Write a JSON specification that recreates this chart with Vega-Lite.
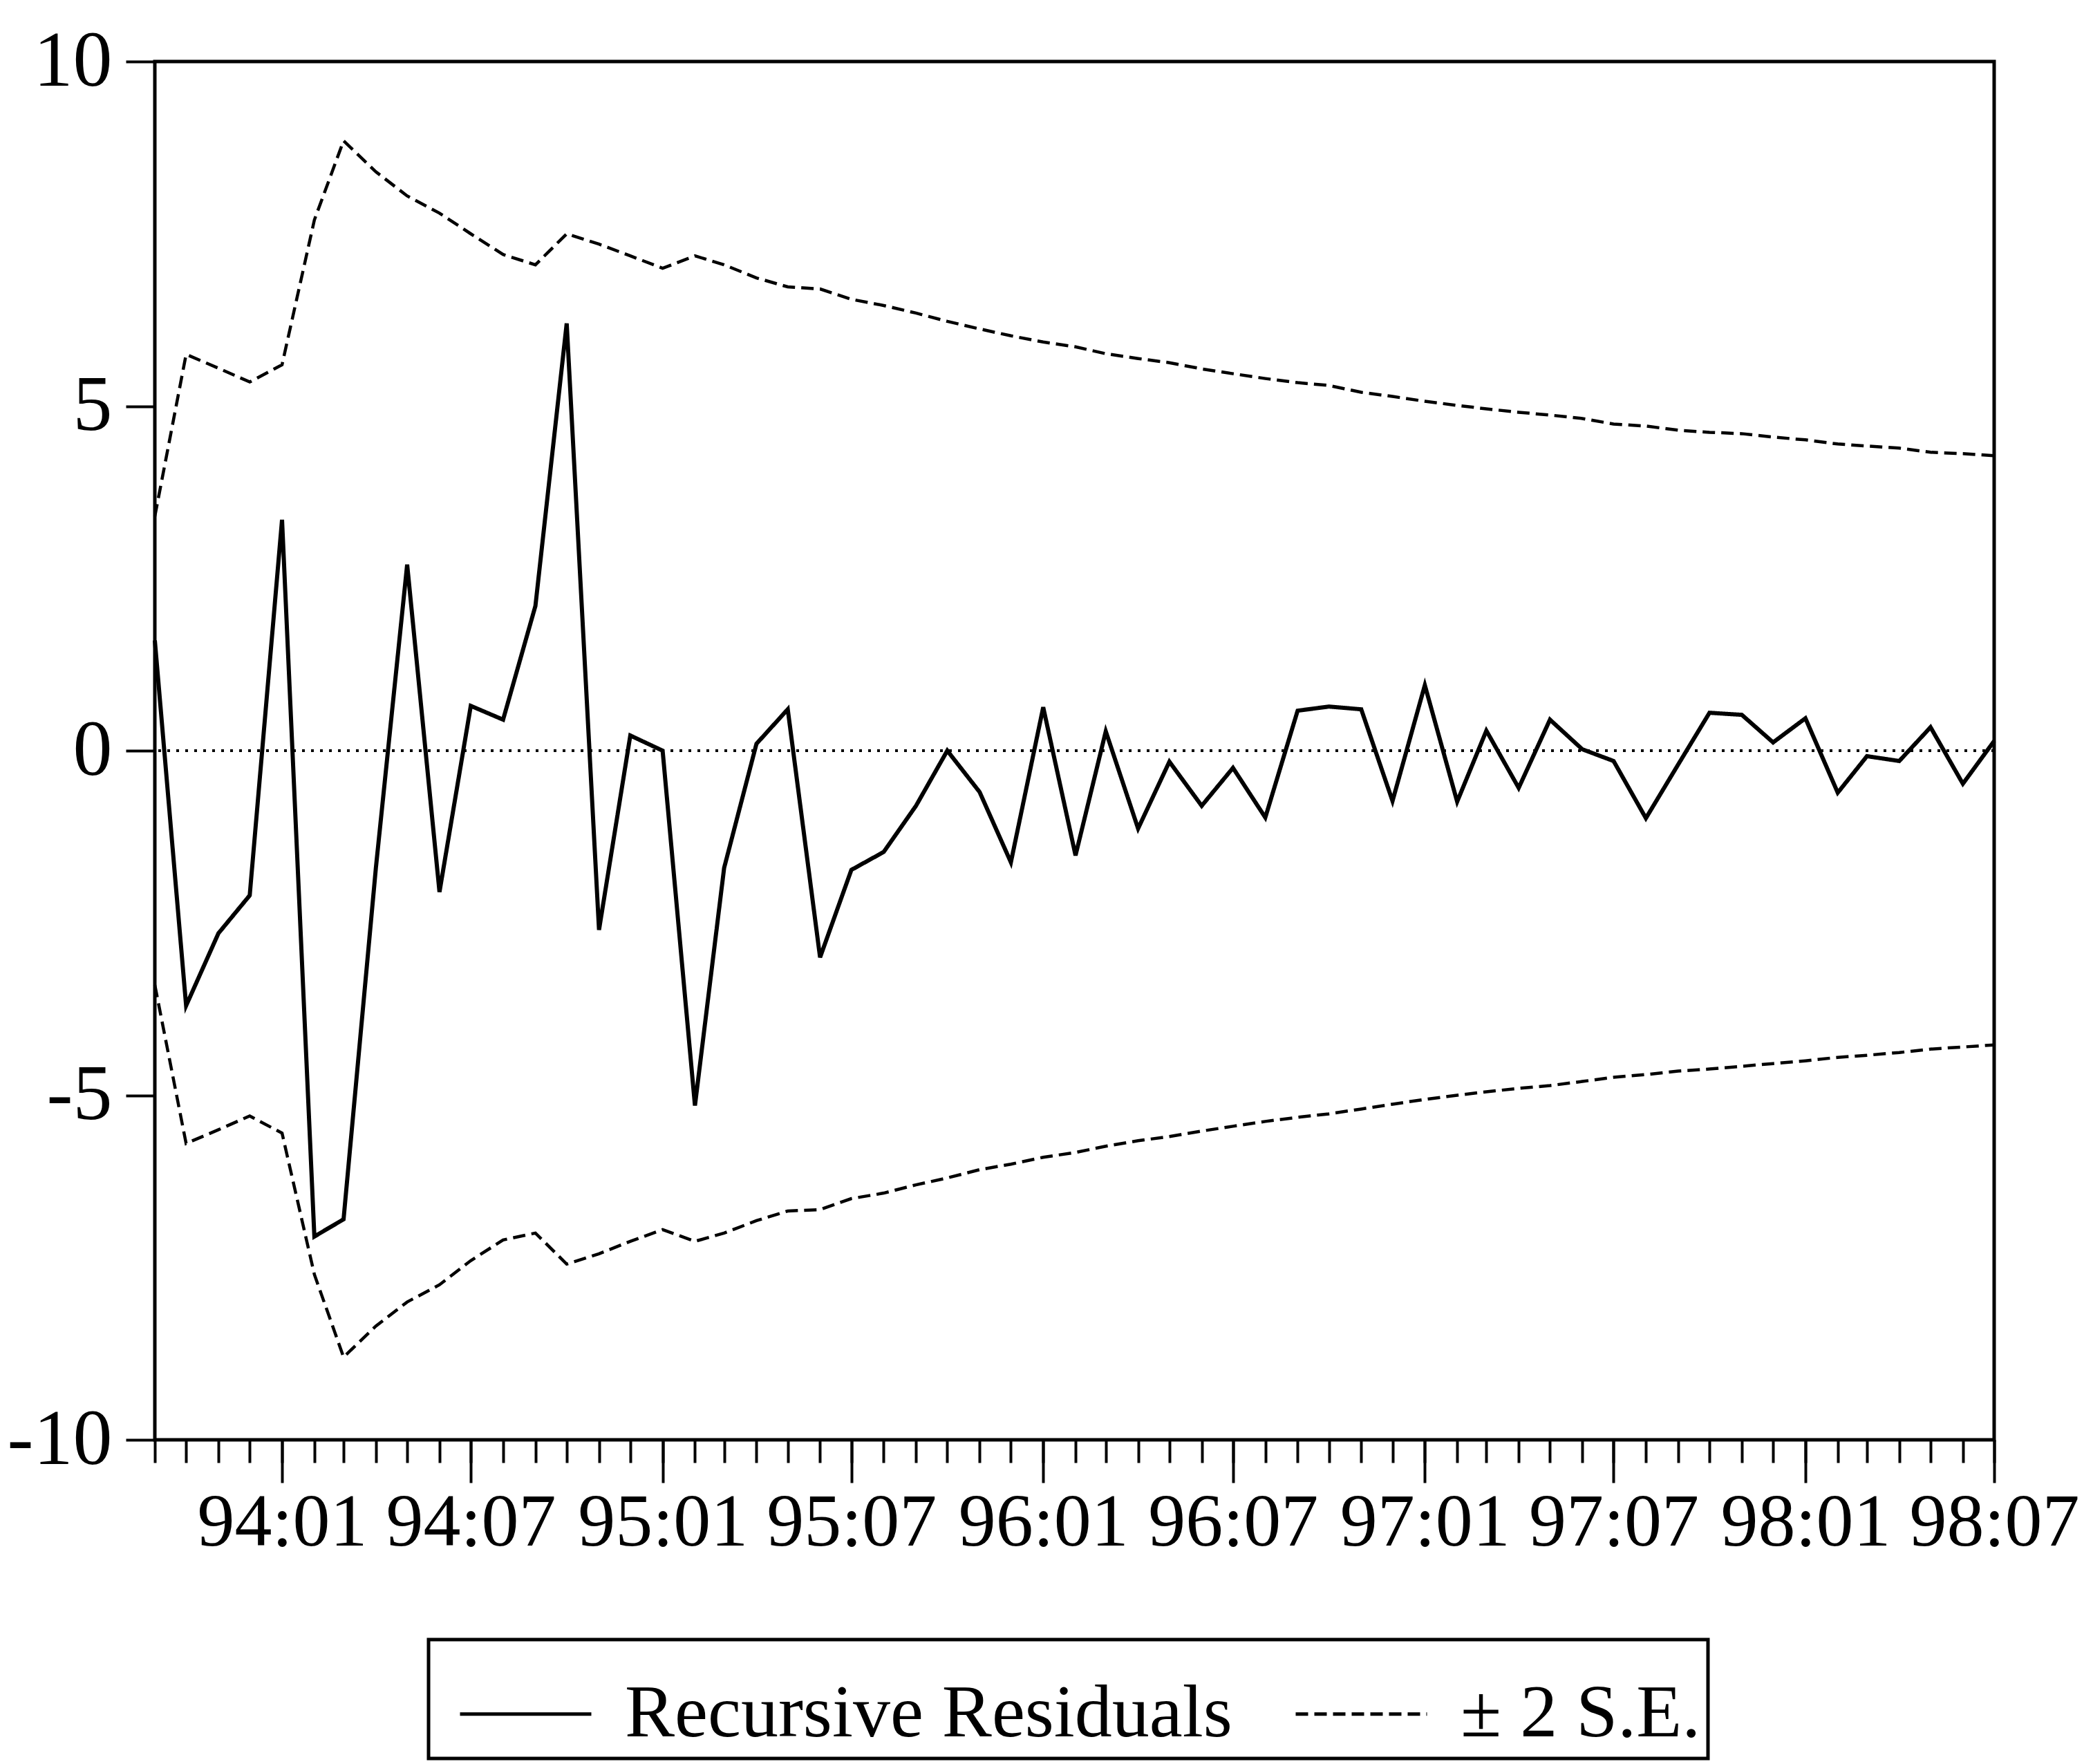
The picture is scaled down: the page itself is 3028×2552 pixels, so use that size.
{
  "$schema": "https://vega.github.io/schema/vega-lite/v6.json",
  "width": 2661,
  "height": 1994,
  "autosize": {"type": "none"},
  "padding": {"left": 224, "top": 89, "right": 143, "bottom": 469},
  "background": "white",
  "config": {
    "view": {"stroke": "black", "strokeWidth": 5},
    "axis": {"labelFont": "Liberation Serif", "labelColor": "black", "tickColor": "black", "grid": false, "domain": false, "tickWidth": 4}
  },
  "data": {
    "values": [
      {"date": "1993-09-01", "resid": 1.6, "upper": 3.4, "lower": -3.4},
      {"date": "1993-10-01", "resid": -3.7, "upper": 5.75, "lower": -5.7},
      {"date": "1993-11-01", "resid": -2.65, "upper": 5.55, "lower": -5.5},
      {"date": "1993-12-01", "resid": -2.1, "upper": 5.35, "lower": -5.3},
      {"date": "1994-01-01", "resid": 3.35, "upper": 5.6, "lower": -5.55},
      {"date": "1994-02-01", "resid": -7.05, "upper": 7.7, "lower": -7.6},
      {"date": "1994-03-01", "resid": -6.8, "upper": 8.85, "lower": -8.8},
      {"date": "1994-04-01", "resid": -1.7, "upper": 8.4, "lower": -8.35},
      {"date": "1994-05-01", "resid": 2.7, "upper": 8.05, "lower": -8.0},
      {"date": "1994-06-01", "resid": -2.05, "upper": 7.8, "lower": -7.75},
      {"date": "1994-07-01", "resid": 0.65, "upper": 7.5, "lower": -7.4},
      {"date": "1994-08-01", "resid": 0.45, "upper": 7.2, "lower": -7.1},
      {"date": "1994-09-01", "resid": 2.1, "upper": 7.05, "lower": -7.0},
      {"date": "1994-10-01", "resid": 6.2, "upper": 7.5, "lower": -7.45},
      {"date": "1994-11-01", "resid": -2.6, "upper": 7.35, "lower": -7.3},
      {"date": "1994-12-01", "resid": 0.22, "upper": 7.18, "lower": -7.12},
      {"date": "1995-01-01", "resid": 0.0, "upper": 7.0, "lower": -6.95},
      {"date": "1995-02-01", "resid": -5.15, "upper": 7.18, "lower": -7.12},
      {"date": "1995-03-01", "resid": -1.7, "upper": 7.05, "lower": -7.0},
      {"date": "1995-04-01", "resid": 0.1, "upper": 6.86, "lower": -6.82},
      {"date": "1995-05-01", "resid": 0.6, "upper": 6.73, "lower": -6.68},
      {"date": "1995-06-01", "resid": -3.0, "upper": 6.7, "lower": -6.66},
      {"date": "1995-07-01", "resid": -1.73, "upper": 6.55, "lower": -6.5},
      {"date": "1995-08-01", "resid": -1.47, "upper": 6.46, "lower": -6.42},
      {"date": "1995-09-01", "resid": -0.8, "upper": 6.35, "lower": -6.3},
      {"date": "1995-10-01", "resid": 0.0, "upper": 6.23, "lower": -6.2},
      {"date": "1995-11-01", "resid": -0.6, "upper": 6.12, "lower": -6.08},
      {"date": "1995-12-01", "resid": -1.62, "upper": 6.02, "lower": -6.0},
      {"date": "1996-01-01", "resid": 0.63, "upper": 5.93, "lower": -5.9},
      {"date": "1996-02-01", "resid": -1.52, "upper": 5.86, "lower": -5.83},
      {"date": "1996-03-01", "resid": 0.28, "upper": 5.76, "lower": -5.74},
      {"date": "1996-04-01", "resid": -1.13, "upper": 5.69, "lower": -5.66},
      {"date": "1996-05-01", "resid": -0.16, "upper": 5.63, "lower": -5.6},
      {"date": "1996-06-01", "resid": -0.8, "upper": 5.54, "lower": -5.52},
      {"date": "1996-07-01", "resid": -0.25, "upper": 5.47, "lower": -5.45},
      {"date": "1996-08-01", "resid": -0.97, "upper": 5.4, "lower": -5.38},
      {"date": "1996-09-01", "resid": 0.58, "upper": 5.34, "lower": -5.32},
      {"date": "1996-10-01", "resid": 0.64, "upper": 5.3, "lower": -5.27},
      {"date": "1996-11-01", "resid": 0.6, "upper": 5.2, "lower": -5.2},
      {"date": "1996-12-01", "resid": -0.73, "upper": 5.14, "lower": -5.13},
      {"date": "1997-01-01", "resid": 0.95, "upper": 5.07, "lower": -5.06},
      {"date": "1997-02-01", "resid": -0.74, "upper": 5.01, "lower": -5.0},
      {"date": "1997-03-01", "resid": 0.29, "upper": 4.96, "lower": -4.95},
      {"date": "1997-04-01", "resid": -0.54, "upper": 4.91, "lower": -4.9},
      {"date": "1997-05-01", "resid": 0.45, "upper": 4.87, "lower": -4.86},
      {"date": "1997-06-01", "resid": 0.02, "upper": 4.82, "lower": -4.8},
      {"date": "1997-07-01", "resid": -0.15, "upper": 4.74, "lower": -4.74},
      {"date": "1997-08-01", "resid": -0.98, "upper": 4.71, "lower": -4.7},
      {"date": "1997-09-01", "resid": -0.2, "upper": 4.65, "lower": -4.65},
      {"date": "1997-10-01", "resid": 0.55, "upper": 4.62, "lower": -4.62},
      {"date": "1997-11-01", "resid": 0.52, "upper": 4.6, "lower": -4.58},
      {"date": "1997-12-01", "resid": 0.12, "upper": 4.55, "lower": -4.54},
      {"date": "1998-01-01", "resid": 0.47, "upper": 4.51, "lower": -4.5},
      {"date": "1998-02-01", "resid": -0.61, "upper": 4.45, "lower": -4.45},
      {"date": "1998-03-01", "resid": -0.08, "upper": 4.42, "lower": -4.42},
      {"date": "1998-04-01", "resid": -0.15, "upper": 4.39, "lower": -4.38},
      {"date": "1998-05-01", "resid": 0.34, "upper": 4.33, "lower": -4.33},
      {"date": "1998-06-01", "resid": -0.48, "upper": 4.31, "lower": -4.3},
      {"date": "1998-07-01", "resid": 0.14, "upper": 4.28, "lower": -4.27}
    ]
  },
  "layer": [
    {
      "mark": {"type": "rule", "color": "black", "strokeWidth": 3, "strokeDash": [4, 9]},
      "encoding": {"y": {"datum": 0, "type": "quantitative"}}
    },
    {
      "mark": {"type": "line", "color": "black", "strokeWidth": 6},
      "encoding": {
        "x": {
          "field": "date",
          "type": "temporal",
          "scale": {"type": "utc", "domain": [{"year": 1993, "month": 9, "date": 1, "utc": true}, {"year": 1998, "month": 7, "date": 1, "utc": true}]},
          "axis": {
            "orient": "bottom",
            "title": null,
            "values": [
              {"year": 1994, "month": 1, "date": 1, "utc": true},
              {"year": 1994, "month": 7, "date": 1, "utc": true},
              {"year": 1995, "month": 1, "date": 1, "utc": true},
              {"year": 1995, "month": 7, "date": 1, "utc": true},
              {"year": 1996, "month": 1, "date": 1, "utc": true},
              {"year": 1996, "month": 7, "date": 1, "utc": true},
              {"year": 1997, "month": 1, "date": 1, "utc": true},
              {"year": 1997, "month": 7, "date": 1, "utc": true},
              {"year": 1998, "month": 1, "date": 1, "utc": true},
              {"year": 1998, "month": 7, "date": 1, "utc": true}
            ],
            "labelExpr": "utcFormat(datum.value, '%y:%m')",
            "labelLimit": 1000,
            "tickSize": 62,
            "tickWidth": 4,
            "labelPadding": 5,
            "labelFontSize": 108,
            "labelFont": "Liberation Serif",
            "labelOverlap": false,
            "labelFlush": false,
            "labelBound": false,
            "domain": false,
            "grid": false
          }
        },
        "y": {
          "field": "resid",
          "type": "quantitative",
          "title": null,
          "scale": {"domain": [-10, 10], "nice": false, "zero": false},
          "axis": {
            "values": [-10, -5, 0, 5, 10],
            "labelExpr": "'' + datum.value",
            "tickSize": 42,
            "tickWidth": 4,
            "labelPadding": 20,
            "labelFontSize": 114,
            "labelFont": "Liberation Serif",
            "labelOverlap": false,
            "labelFlush": false,
            "domain": false,
            "grid": false
          }
        },
        "strokeDash": {
          "datum": "Recursive Residuals",
          "type": "nominal",
          "scale": {"domain": ["Recursive Residuals", "± 2 S.E."], "range": [[1, 0], [18, 9]]},
          "legend": {
            "title": null,
            "orient": "none",
            "legendX": 396,
            "legendY": 2283,
            "direction": "horizontal",
            "symbolType": "stroke",
            "symbolSize": 36100,
            "symbolOffset": 33,
            "symbolStrokeWidth": 5,
            "symbolStrokeColor": "black",
            "labelFont": "Liberation Serif",
            "labelFontSize": 108,
            "labelColor": "black",
            "labelLimit": 3000,
            "labelOffset": 46,
            "columnPadding": 56,
            "padding": 10,
            "strokeColor": "black",
            "encode": {"legend": {"update": {"stroke": {"value": "black"}, "strokeWidth": {"value": 5}}}}
          }
        }
      }
    },
    {
      "mark": {"type": "line", "color": "black", "strokeWidth": 4.5},
      "encoding": {
        "x": {
          "field": "date",
          "type": "temporal",
          "axis": {
            "orient": "bottom",
            "title": null,
            "values": [
              {"year": 1993, "month": 9, "date": 1, "utc": true},
              {"year": 1993, "month": 10, "date": 1, "utc": true},
              {"year": 1993, "month": 11, "date": 1, "utc": true},
              {"year": 1993, "month": 12, "date": 1, "utc": true},
              {"year": 1994, "month": 1, "date": 1, "utc": true},
              {"year": 1994, "month": 2, "date": 1, "utc": true},
              {"year": 1994, "month": 3, "date": 1, "utc": true},
              {"year": 1994, "month": 4, "date": 1, "utc": true},
              {"year": 1994, "month": 5, "date": 1, "utc": true},
              {"year": 1994, "month": 6, "date": 1, "utc": true},
              {"year": 1994, "month": 7, "date": 1, "utc": true},
              {"year": 1994, "month": 8, "date": 1, "utc": true},
              {"year": 1994, "month": 9, "date": 1, "utc": true},
              {"year": 1994, "month": 10, "date": 1, "utc": true},
              {"year": 1994, "month": 11, "date": 1, "utc": true},
              {"year": 1994, "month": 12, "date": 1, "utc": true},
              {"year": 1995, "month": 1, "date": 1, "utc": true},
              {"year": 1995, "month": 2, "date": 1, "utc": true},
              {"year": 1995, "month": 3, "date": 1, "utc": true},
              {"year": 1995, "month": 4, "date": 1, "utc": true},
              {"year": 1995, "month": 5, "date": 1, "utc": true},
              {"year": 1995, "month": 6, "date": 1, "utc": true},
              {"year": 1995, "month": 7, "date": 1, "utc": true},
              {"year": 1995, "month": 8, "date": 1, "utc": true},
              {"year": 1995, "month": 9, "date": 1, "utc": true},
              {"year": 1995, "month": 10, "date": 1, "utc": true},
              {"year": 1995, "month": 11, "date": 1, "utc": true},
              {"year": 1995, "month": 12, "date": 1, "utc": true},
              {"year": 1996, "month": 1, "date": 1, "utc": true},
              {"year": 1996, "month": 2, "date": 1, "utc": true},
              {"year": 1996, "month": 3, "date": 1, "utc": true},
              {"year": 1996, "month": 4, "date": 1, "utc": true},
              {"year": 1996, "month": 5, "date": 1, "utc": true},
              {"year": 1996, "month": 6, "date": 1, "utc": true},
              {"year": 1996, "month": 7, "date": 1, "utc": true},
              {"year": 1996, "month": 8, "date": 1, "utc": true},
              {"year": 1996, "month": 9, "date": 1, "utc": true},
              {"year": 1996, "month": 10, "date": 1, "utc": true},
              {"year": 1996, "month": 11, "date": 1, "utc": true},
              {"year": 1996, "month": 12, "date": 1, "utc": true},
              {"year": 1997, "month": 1, "date": 1, "utc": true},
              {"year": 1997, "month": 2, "date": 1, "utc": true},
              {"year": 1997, "month": 3, "date": 1, "utc": true},
              {"year": 1997, "month": 4, "date": 1, "utc": true},
              {"year": 1997, "month": 5, "date": 1, "utc": true},
              {"year": 1997, "month": 6, "date": 1, "utc": true},
              {"year": 1997, "month": 7, "date": 1, "utc": true},
              {"year": 1997, "month": 8, "date": 1, "utc": true},
              {"year": 1997, "month": 9, "date": 1, "utc": true},
              {"year": 1997, "month": 10, "date": 1, "utc": true},
              {"year": 1997, "month": 11, "date": 1, "utc": true},
              {"year": 1997, "month": 12, "date": 1, "utc": true},
              {"year": 1998, "month": 1, "date": 1, "utc": true},
              {"year": 1998, "month": 2, "date": 1, "utc": true},
              {"year": 1998, "month": 3, "date": 1, "utc": true},
              {"year": 1998, "month": 4, "date": 1, "utc": true},
              {"year": 1998, "month": 5, "date": 1, "utc": true},
              {"year": 1998, "month": 6, "date": 1, "utc": true},
              {"year": 1998, "month": 7, "date": 1, "utc": true}
            ],
            "labels": false,
            "tickSize": 33,
            "tickWidth": 4,
            "domain": false,
            "grid": false
          }
        },
        "y": {"field": "upper", "type": "quantitative", "title": null},
        "strokeDash": {"datum": "± 2 S.E.", "type": "nominal"}
      }
    },
    {
      "mark": {"type": "line", "color": "black", "strokeWidth": 4.5},
      "encoding": {
        "x": {"field": "date", "type": "temporal", "axis": null},
        "y": {"field": "lower", "type": "quantitative", "title": null},
        "strokeDash": {"datum": "± 2 S.E.", "type": "nominal"}
      }
    }
  ],
  "resolve": {"axis": {"x": "independent"}}
}
